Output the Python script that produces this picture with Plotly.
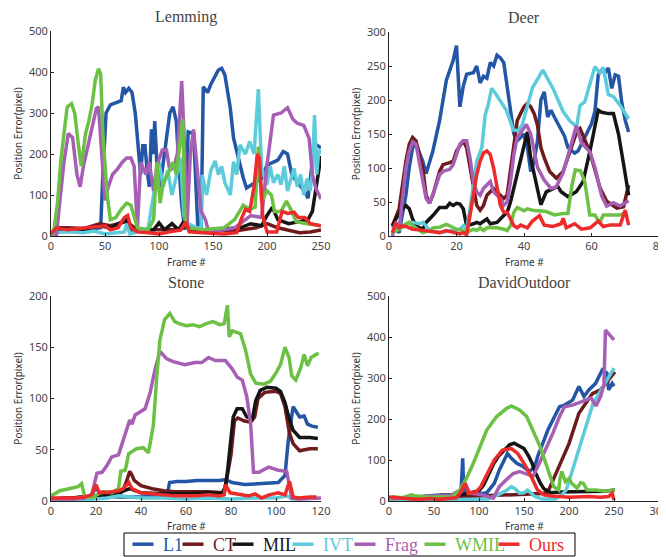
import plotly.graph_objects as go

# The page body has an 8px default margin: the figure starts 8px right of / below the window corner
W, H = 658, 549
OFF = 8

NAMES = ["L1", "CT", "MIL", "IVT", "Frag", "WMIL", "Ours"]
COLORS = ["#2456a6", "#6f1a1d", "#151515", "#5ecbdb", "#a65fb4", "#6cc145", "#ee2b2b"]

# ---------------- Lemming (frame, error) ----------------
lem_L1 = [(0,5),(10,12),(20,15),(30,15),(40,18),(46,20),(48,150),(51,300),(55,320),(60,325),(65,330),(67,363),(69,350),(72,360),(75,350),(78,300),(81,200),(83,150),(85,220),(87,220),(89,160),(91,120),(93,260),(95,200),(96,280),(98,180),(101,120),(104,180),(107,250),(110,300),(113,315),(116,280),(118,190),(121,75),(124,15),(127,254),(132,250),(136,20),(139,15),(141,364),(145,350),(148,370),(155,405),(158,409),(161,393),(166,312),(169,239),(172,206),(178,142),(181,117),(186,125),(190,130),(195,140),(200,173),(206,181),(210,185),(215,206),(219,200),(223,149),(229,130),(235,108),(238,92),(243,206),(246,222),(250,215)]
lem_CT = [(0,5),(5,20),(15,20),(30,18),(45,30),(55,25),(70,35),(80,15),(100,15),(120,15),(125,30),(130,15),(150,15),(170,12),(190,20),(200,30),(210,20),(220,15),(230,8),(240,10),(250,15)]
lem_MIL = [(0,5),(10,15),(30,15),(45,25),(55,20),(70,40),(75,15),(95,15),(100,32),(105,15),(112,30),(118,15),(124,40),(128,15),(150,15),(175,20),(185,30),(195,25),(200,50),(205,70),(210,40),(220,30),(230,35),(238,40),(242,60),(246,130),(250,195)]
lem_IVT = [(0,5),(10,10),(20,10),(30,8),(40,12),(50,5),(60,8),(68,10),(70,30),(73,5),(80,10),(90,20),(95,100),(100,180),(104,120),(108,160),(112,100),(116,150),(120,190),(123,50),(127,30),(135,20),(139,20),(140,149),(144,100),(148,160),(152,183),(155,150),(158,170),(161,130),(166,100),(169,181),(172,150),(175,222),(180,200),(184,230),(188,200),(192,358),(195,165),(200,125),(203,170),(206,130),(210,150),(213,125),(216,170),(219,110),(222,140),(225,165),(228,120),(231,150),(234,100),(237,140),(240,110),(242,160),(244,295),(246,150),(248,210),(250,200)]
lem_Frag = [(0,0),(5,0),(8,80),(12,180),(16,250),(20,240),(24,150),(27,120),(30,170),(34,220),(38,260),(42,311),(44,315),(47,200),(50,87),(53,120),(57,150),(62,165),(66,180),(70,190),(74,190),(77,170),(80,20),(83,180),(88,150),(91,180),(95,110),(98,170),(103,210),(107,210),(110,160),(114,170),(117,200),(121,378),(123,260),(126,30),(129,200),(132,260),(134,200),(136,149),(139,60),(143,40),(146,10),(160,15),(170,20),(180,40),(185,50),(195,45),(200,173),(206,295),(213,300),(219,313),(224,285),(228,275),(234,270),(239,238),(242,150),(245,118),(250,90)]
lem_WMIL = [(0,0),(3,20),(6,80),(9,180),(12,250),(15,315),(19,323),(22,299),(25,230),(28,170),(32,250),(35,280),(38,320),(41,380),(44,408),(46,395),(48,250),(52,100),(55,40),(60,45),(65,65),(70,80),(74,75),(77,50),(80,20),(90,15),(95,40),(98,180),(101,80),(104,130),(108,150),(113,180),(116,150),(122,285),(124,40),(127,20),(140,15),(160,20),(170,40),(178,75),(184,65),(189,70),(192,218),(195,85),(200,110),(204,100),(207,60),(213,60),(218,85),(222,65),(227,35),(237,30),(250,25)]
lem_Ours = [(0,5),(5,20),(15,15),(25,18),(35,20),(45,22),(50,25),(55,15),(62,20),(68,45),(71,50),(74,20),(80,10),(90,8),(100,5),(110,10),(120,15),(125,35),(128,10),(140,8),(160,5),(172,8),(176,40),(180,65),(184,60),(188,120),(191,200),(193,190),(196,50),(200,10),(209,10),(214,60),(219,55),(225,58),(229,45),(235,45),(240,30),(250,25)]

# ---------------- Deer ----------------
deer_L1 = [(1,15),(3,5),(5,60),(6,101),(7,130),(8,135),(10,110),(11,92),(13,125),(15,170),(17,229),(18,245),(19,258),(20,280),(21,190),(22,220),(23,238),(25,240),(26,250),(27,225),(28,235),(29,232),(30,255),(31,250),(32,266),(33,262),(34,255),(35,220),(36,180),(37,150),(38,140),(40,150),(41,130),(42,95),(43,110),(44,140),(45,200),(46,212),(47,175),(48,185),(49,175),(50,165),(52,147),(53,130),(55,122),(56,125),(57,135),(59,154),(60,165),(61,183),(62,237),(63,244),(64,240),(65,247),(66,217),(67,237),(68,235),(69,195),(70,170),(71,153)]
deer_CT = [(1,15),(3,40),(5,110),(6,135),(7,145),(8,140),(10,100),(11,60),(12,48),(13,60),(15,95),(16,105),(18,108),(19,110),(20,125),(22,140),(23,130),(24,100),(25,70),(26,45),(27,38),(28,45),(29,60),(31,70),(33,60),(34,55),(35,60),(36,100),(37,140),(38,170),(40,190),(41,195),(42,190),(43,180),(44,163),(45,130),(46,115),(47.6,95),(49.6,85),(51.6,95),(53.6,124),(55.6,153),(56.6,158),(59.5,124),(62.5,71),(64.5,51),(67.5,41),(69.5,43),(71,75)]
deer_MIL = [(1,15),(2,25),(4,40),(5,45),(6,40),(7,25),(8,15),(10,10),(11,20),(13,30),(15,42),(17,42),(18,48),(19,45),(20,48),(21,47),(22,40),(23,15),(25,18),(26,20),(27,18),(29,25),(30,18),(32,20),(34,30),(35,35),(36,50),(37,70),(38.5,99),(40,129),(41,153),(42,114),(43.5,80),(45,46),(46.6,65),(48.6,70),(50,73),(51,65),(53,58),(55.5,65),(57.5,80),(59.5,124),(61,162),(62,185),(63,182),(65,180),(66.5,180),(68,150),(69.5,106),(71,60)]
deer_IVT = [(1,10),(2,15),(3,10),(5,15),(6,20),(7,20),(9,18),(10,20),(11,15),(12,8),(15,5),(18,8),(21,10),(22,15),(23,10),(24,40),(25,80),(26,110),(27.5,130),(28.5,178),(29.5,195),(30.4,217),(31.5,210),(32.8,200),(34.8,185),(36.8,156),(38.3,155),(39.5,164),(42.5,218),(45.6,244),(48.6,217),(51.6,183),(53.6,169),(55.6,161),(56.6,192),(58,197),(59.5,225),(61,249),(62.5,240),(63.5,248),(65,208),(66.5,205),(68.5,192),(71,172)]
deer_Frag = [(1,0),(2,20),(3,10),(4,50),(5,100),(6,125),(7,138),(8,135),(9,110),(10,85),(11,55),(12,48),(13,60),(14,75),(15,90),(16,95),(18,98),(19,105),(20,120),(21,135),(22,140),(23,140),(24,115),(25,80),(26,65),(27,60),(28,70),(30,80),(31,65),(33,55),(34,45),(35,50),(36,80),(37,120),(38,145),(40.7,164),(42,150),(44,101),(46,82),(48,70),(49.5,72),(51.5,92),(53.5,126),(55.5,162),(57,137),(59.5,124),(61,101),(63,59),(64.5,44),(66.5,49),(68.5,44),(70,48),(71,52)]
deer_WMIL = [(1,5),(3,10),(5,18),(6,20),(7,15),(9,8),(10,5),(12,8),(13,12),(15,13),(17,17),(18,15),(20,10),(22,8),(23,5),(25,10),(26,8),(27,12),(28,8),(29,12),(32,12),(34,10),(35,8),(36,15),(37,35),(38,42),(39,40),(40,37),(41,40),(42.5,38),(46.6,36),(49,31),(51.6,33),(53,33),(54.2,75),(55.2,97),(56.7,96),(58,80),(59.5,31),(61,31),(62.4,19),(63.5,31),(68.5,31),(70.5,35)]
deer_Ours = [(1,5),(2,18),(3,12),(4,15),(5,14),(6,12),(7,10),(9,9),(11,8),(13,7),(15,5),(17,8),(19,5),(21,3),(22,5),(23,2),(24,30),(25,60),(26,90),(27,110),(28,122),(29,125),(30,120),(31,100),(32,70),(33,45),(34,35),(35,35),(36,25),(37,15),(38,12),(39,16),(41,12),(42.5,22),(44.6,30),(46,16),(48.6,14),(51,18),(51.6,26),(52.5,12),(55,18),(57,10),(59.6,12),(62,22),(63.5,14),(65.5,16),(68.5,16),(70,38),(71,16)]

# ---------------- Stone ----------------
stone_L1 = [(0,2),(10,3),(18,5),(20,14),(22,5),(30,4),(40,4),(50,5),(52,10),(52.7,18),(56,19),(60,19),(65,20),(70,20),(75,20),(77.5,21),(80.5,18),(86,16),(95,17),(101,18),(104,25),(105.4,58),(107.6,92),(110.5,82),(112.5,83),(114,75),(116,73),(118.6,72)]
stone_CT = [(0,2),(10,3),(20,4),(25,5),(30,6),(32,10),(34,22),(35,29),(36,25),(37,20),(40,15),(45,12),(50,10),(55,9),(60,9),(70,9),(77,8),(78,20),(80,45),(81.5,78),(83,81),(86,78),(88.7,77),(90.5,82),(92,100),(95,106),(100,107),(102,105),(104,92),(106,66),(107.6,56),(110.5,49),(115,51),(118.6,51)]
stone_MIL = [(0,2),(10,3),(20,5),(25,6),(30,8),(35,12),(40,8),(50,7),(60,7),(70,8),(76,7),(77.5,14),(78.5,30),(79.6,56),(81,82),(82.7,90),(85,90),(87,82),(89.5,80),(91,98),(93,108),(96,111),(100,110),(102,107),(104,96),(105.4,84),(107.6,69),(110.5,62),(115,62),(118.6,61)]
stone_IVT = [(0,1),(10,1),(20,2),(25,3),(30,5),(35,4),(40,3),(50,3),(60,2),(70,3),(80,2),(90,3),(100,3),(105,5),(107,2),(110,2),(118,3)]
stone_Frag = [(0,2),(10,2),(15,3),(18,5),(20.4,27),(22.7,28),(25,35),(27,43),(30,45),(33,66),(35,79),(36,75),(37.4,84),(41.8,90),(44,105),(46.2,128),(48.4,146),(51.3,139),(54.3,136),(59.5,133),(64,135),(67,135),(70,140),(73,137),(77.5,137),(80.5,129),(82.7,121),(85,118),(87,102),(88.7,76),(90,28),(92.4,28),(96.7,33),(101,30),(104.7,29),(107,3),(110,2),(120,3)]
stone_WMIL = [(0,5),(2,8),(4,10),(6,11),(8,12),(10,13),(12,14),(13.6,17),(15,4),(18,3),(22,8),(25,9),(27,8),(30,12),(31,29),(33,30),(34.5,46),(38,51),(41,52),(43.3,47),(45.5,74),(47,121),(48.4,157),(50.5,177),(52.8,183),(55,175),(57,173),(60,171),(63,172),(66,170),(69,173),(72,175),(75,172),(77,173),(78.4,191),(79.2,160),(80.6,166),(84.3,163),(86.5,147),(88.7,124),(91,115),(94.7,114),(97.6,117),(100,125),(102,133),(104,150),(105.8,140),(107,122),(108.8,118),(111,130),(112.5,143),(114,132),(115.6,140),(117.8,143),(119,144)]
stone_Ours = [(0,3),(5,3),(10,3),(15,4),(18,6),(20,16),(21.5,8),(23,9),(25,8),(27,9),(30,10),(32,12),(34.6,18),(36,12),(38,10),(40,8),(45,7),(50,6),(55,5),(60,5),(65,5),(70,6),(75,5),(77,6),(77.5,16),(79.6,8),(85,6),(88,5),(90.7,7),(93.6,3),(97,6),(101,8),(104,6),(106,19),(107.6,4),(110,3),(115,4),(118,4)]

# ---------------- DavidOutdoor ----------------
david_L1 = [(0,5),(20,8),(40,10),(60,15),(75,12),(80,20),(81.9,104),(83,25),(93.7,15),(108.6,20),(117,43),(122.6,76),(127,95),(131.6,116),(136,104),(142,92),(149,84),(156,72),(162,84),(165,108),(171,141),(176.5,173),(184,206),(189.5,230),(195,234),(200,240),(204,246),(211,279),(216.7,255),(222,271),(229.6,287),(237,320),(242,312),(244,271),(248,287),(250,280)]
david_CT = [(0,5),(20,8),(50,8),(80,10),(100,12),(130,15),(150,15),(170,18),(176.5,22),(190,90),(200,140),(211,214),(220,245),(226,262),(235,271),(245,300),(251,315)]
david_MIL = [(0,5),(20,8),(40,8),(55,12),(65,15),(80,15),(90,20),(100,25),(105,38),(110,60),(116.5,92),(122,110),(128,124),(134,137),(139,141),(145,135),(150,128),(155,110),(159,92),(163,68),(168,44),(172,30),(175,27),(180,20),(190,22),(210,23),(223,25),(240,24),(251,27)]
david_IVT = [(0,3),(30,5),(60,3),(90,5),(110,5),(121,15),(130,25),(136,35),(140,30),(145,19),(150,20),(154,27),(158,20),(162,11),(170,5),(185,5),(192,15),(197,27),(204,76),(215.6,157),(226.7,238),(238,279),(244.5,303),(250,324)]
david_Frag = [(0,5),(20,8),(40,10),(60,12),(70,15),(79,27),(84.5,43),(90,19),(104,15),(116,7),(122.6,35),(130,51),(138,67),(145,72),(154,64),(160,60),(167,92),(174,124),(182,165),(189.5,206),(195,230),(204,234),(215.6,243),(224.6,251),(230,232),(235,254),(238.8,283),(240.5,417),(250,393)]
david_WMIL = [(0,5),(5,10),(15,8),(25,15),(30,12),(40,10),(55,10),(70,10),(79,27),(86,55),(93.7,92),(100,125),(108.6,173),(119.7,206),(130.8,226),(136,232),(145,222),(153,206),(160,173),(168,132),(175.5,84),(183,35),(188.6,27),(190,55),(192,72),(196,47),(200,55),(203,43),(209,31),(213,45),(216,43),(220,27),(230,27),(240,24),(251,27)]
david_Ours = [(0,10),(8,8),(15,6),(25,5),(35,4),(45,6),(55,4),(65,5),(75,8),(79,19),(84.5,43),(88,19),(97,22),(102,35),(108,60),(117,100),(126,124),(136,128),(143,116),(150,92),(158,60),(165,27),(172,15),(180,12),(189,11),(200,9),(222,11),(235,9),(244,11),(248,19),(250,2)]

# titles and ticks
TITLES = ["Lemming", "Deer", "Stone", "DavidOutdoor"]
X_TITLE = "Frame #"
Y_TITLE = "Position Error(pixel)"
X_RANGES = [[0, 250], [0, 80], [0, 120], [0, 300]]
Y_RANGES = [[0, 500], [0, 300], [0, 200], [0, 500]]
X_DTICK = [50, 20, 20, 50]
Y_DTICK = [100, 50, 50, 100]

PANELS = [
    [lem_L1, lem_CT, lem_MIL, lem_IVT, lem_Frag, lem_WMIL, lem_Ours],
    [deer_L1, deer_CT, deer_MIL, deer_IVT, deer_Frag, deer_WMIL, deer_Ours],
    [stone_L1, stone_CT, stone_MIL, stone_IVT, stone_Frag, stone_WMIL, stone_Ours],
    [david_L1, david_CT, david_MIL, david_IVT, david_Frag, david_WMIL, david_Ours],
]

# plot-area boxes in window pixels (left, right, top, bottom) and x-title heights
BOXES = [(51, 321, 31, 236), (389, 659, 32, 236), (51, 321, 296, 501), (389, 659, 296, 501)]
XTITLE_Y = [262, 262, 526, 526]
LEGEND_BOX = (124, 575, 533, 556)

fig = go.Figure()

for p, series in enumerate(PANELS):
    sfx = "" if p == 0 else str(p + 1)
    for name, color, pts in zip(NAMES, COLORS, series):
        fig.add_trace(go.Scatter(
            x=[a for a, b in pts], y=[b for a, b in pts],
            mode="lines", line=dict(color=color, width=3.5),
            xaxis="x" + sfx, yaxis="y" + sfx,
            showlegend=False, name=name, hoverinfo="skip"))

# legend entries (short dash + coloured label)
LEG_W = [5, 5, 15, 17, 25, 29, 40]
for name, color, lw in zip(NAMES, COLORS, LEG_W):
    fig.add_trace(go.Scatter(
        x=[None], y=[None], mode="markers",
        marker=dict(symbol="line-ew", size=15, color=color,
                    line=dict(color=color, width=3.5)),
        name='<span style="color:%s">%s</span>' % (color, name),
        legendwidth=lw, showlegend=True))


def px_x(v):
    return min(1.0, max(0.0, (v - OFF) / W))


def px_y(v):
    return min(1.0, max(0.0, 1 - (v - OFF) / H))


lx0, lx1, ly0, ly1 = LEGEND_BOX
layout = dict(
    width=W, height=H, autosize=False,
    margin=dict(l=0, r=0, t=0, b=0, autoexpand=False),
    paper_bgcolor="white", plot_bgcolor="white",
    font=dict(family="Noto Sans", color="#333"),
    showlegend=True,
    legend=dict(orientation="h", x=px_x(123), xanchor="left",
                y=px_y((ly0 + ly1) / 2 - 18.5), yanchor="top",
                borderwidth=0, bgcolor="rgba(0,0,0,0)",
                font=dict(family="Liberation Serif", size=18),
                itemwidth=30, tracegroupgap=0),
    shapes=[dict(type="rect", xref="paper", yref="paper",
                 x0=px_x(lx0), x1=px_x(lx1), y0=px_y(ly1), y1=px_y(ly0),
                 line=dict(color="black", width=1), fillcolor="rgba(0,0,0,0)", layer="above")],
)
annotations = []
for p in range(4):
    l, r, t, b = BOXES[p]
    sfx = "" if p == 0 else str(p + 1)
    ax = dict(
        domain=[px_x(l), px_x(r)], range=X_RANGES[p], dtick=X_DTICK[p], tick0=0,
        showline=True, linecolor="#222", linewidth=1, mirror=False,
        ticks="inside", ticklen=3, tickcolor="#222",
        showgrid=False, zeroline=False, automargin=False,
        ticklabeloverflow="allow",
        tickfont=dict(family="Noto Sans", size=11, color="#444"),
        anchor="y" + sfx,
    )
    ay = dict(
        domain=[px_y(b), px_y(t)], range=Y_RANGES[p], dtick=Y_DTICK[p], tick0=0,
        showline=True, linecolor="#222", linewidth=1, mirror=False,
        ticks="inside", ticklen=3, tickcolor="#222",
        showgrid=False, zeroline=False, automargin=False,
        tickfont=dict(family="Noto Sans", size=11, color="#444"),
        title=dict(text=Y_TITLE, font=dict(family="Noto Sans", size=10, color="#333"), standoff=4),
        anchor="x" + sfx,
    )
    layout["xaxis" + sfx] = ax
    layout["yaxis" + sfx] = ay
    annotations.append(dict(
        text=TITLES[p], xref="paper", yref="paper",
        x=px_x((l + r) / 2), y=px_y(t - 14), xanchor="center", yanchor="middle",
        showarrow=False, font=dict(family="Liberation Serif", size=16, color="#444")))
    annotations.append(dict(
        text=X_TITLE, xref="paper", yref="paper",
        x=px_x((l + r) / 2), y=px_y(XTITLE_Y[p]), xanchor="center", yanchor="middle",
        showarrow=False, font=dict(family="Noto Sans", size=10, color="#333")))
layout["annotations"] = annotations
fig.update_layout(**layout)

fig.write_html("out.html")
